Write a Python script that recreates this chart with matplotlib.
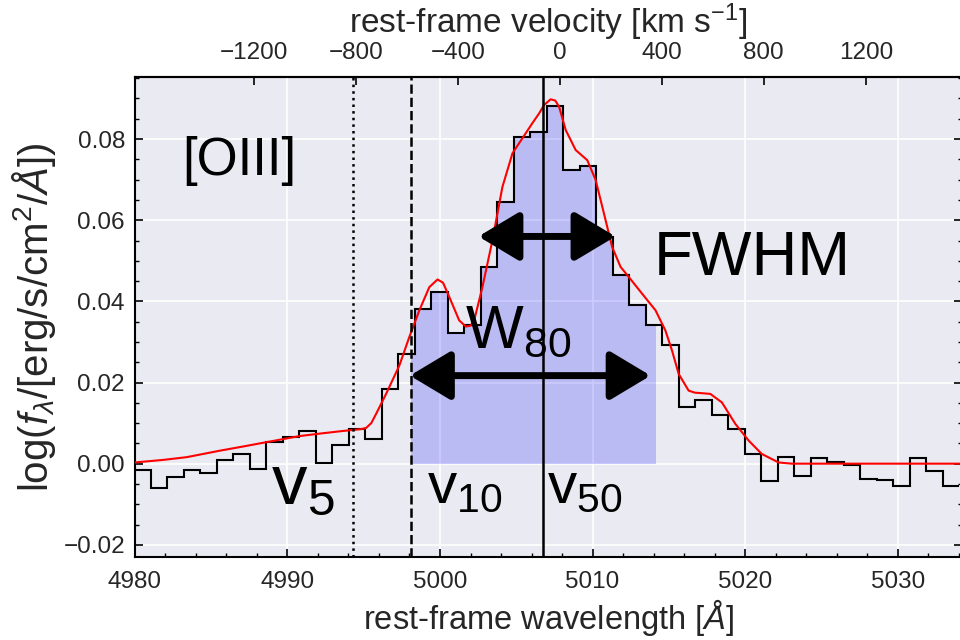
import numpy as np
import matplotlib
matplotlib.use('Agg')
import matplotlib.pyplot as plt
from matplotlib.patches import Rectangle
from matplotlib.ticker import MultipleLocator

plt.rcParams['font.family'] = ['Liberation Sans', 'DejaVu Sans']
plt.rcParams['mathtext.fontset'] = 'custom'
plt.rcParams['mathtext.rm'] = 'Liberation Sans'
plt.rcParams['mathtext.it'] = 'Liberation Sans:italic'
plt.rcParams['mathtext.bf'] = 'Liberation Sans:bold'

# spectrum bins (rest-frame wavelength, A)
bin_start = 4979.98
bin_width = 1.081
flux = [-0.0015, -0.0060, -0.0032, -0.0016, -0.0022, 0.0009, 0.0024, -0.0012,
        0.0053, 0.0065, 0.0081, 0.0002, 0.0045, 0.0086, 0.0062, 0.0185,
        0.0271, 0.0380, 0.0423, 0.0323, 0.0342, 0.0485, 0.0645, 0.0806,
        0.0818, 0.0881, 0.0725, 0.0733, 0.0559, 0.0464, 0.0390, 0.0341,
        0.0293, 0.0139, 0.0158, 0.0121, 0.0086, 0.0025, -0.0042, 0.0017,
        -0.0030, 0.0014, 0.0005, -0.0004, -0.0039, -0.0041, -0.0054, 0.0014,
        -0.0017, -0.0056]
edges = bin_start + bin_width * np.arange(len(flux) + 1)

# model fit (red)
fit_wave = [4980.0, 4981.8, 4983.40, 4985.58, 4987.2, 4988.63, 4990.80, 4992.33,
            4993.5, 4994.27, 4994.8, 4995.16, 4995.5, 4995.82, 4996.47, 4997.34,
            4997.99, 4998.65, 4999.30, 4999.84, 5000.2, 5000.61, 5001.26, 5001.70,
            5002.0, 5002.24, 5002.78, 5003.44, 5004.09, 5004.75, 5005.40, 5006.05,
            5006.49, 5006.82, 5007.25, 5007.55, 5007.80, 5008.24, 5008.89, 5009.65,
            5010.20, 5010.74, 5011.28, 5011.83, 5012.37, 5013.24, 5014.12, 5014.77,
            5015.20, 5015.64, 5016.29, 5016.7, 5017.06, 5017.71, 5018.47, 5019.35,
            5020.22, 5021.08, 5022.18, 5023.05, 5028.0, 5035.0]
fit_flux = [0.0003, 0.0009, 0.0016, 0.0032, 0.0043, 0.0053, 0.0068, 0.0075,
            0.0080, 0.0083, 0.0085, 0.0088, 0.0100, 0.0123, 0.0172, 0.0242,
            0.0312, 0.0378, 0.0435, 0.0454, 0.0446, 0.0411, 0.0353, 0.0338,
            0.0340, 0.0353, 0.0435, 0.0551, 0.0682, 0.0765, 0.0802, 0.0839,
            0.0863, 0.0884, 0.0898, 0.0895, 0.0880, 0.0822, 0.0773, 0.0748,
            0.0699, 0.0617, 0.0534, 0.0485, 0.0460, 0.0419, 0.0378, 0.0328,
            0.0279, 0.0221, 0.0180, 0.0175, 0.0174, 0.0172, 0.0151, 0.0098,
            0.0057, 0.0024, 0.0003, 0.0000, 0.0000, 0.0000]

# velocity markers
v05, v10, v50, v90 = 4994.3, 4998.07, 5006.74, 5014.15
fwhm_lo, fwhm_hi, fwhm_y = 5002.52, 5011.5, 0.056
w80_lo, w80_hi, w80_y = 4998.03, 5013.8, 0.0217

lam0 = 5007.85
c_kms = 299792.458
vel_ticks = [-1200, -800, -400, 0, 400, 800, 1200]


def lam2vel(l):
    return (l - lam0) / lam0 * c_kms


def vel2lam(v):
    return lam0 * (1 + v / c_kms)


fig = plt.figure(figsize=(9.6, 6.4), dpi=100)
ax = fig.add_axes([0.1403, 0.1297, 0.8618, 0.75])
ax.set_facecolor('#EAEAF2')
ax.grid(True, color='white', lw=1.2)
ax.set_axisbelow(True)

fill = ax.stairs(flux, edges, fill=True, baseline=0, color='blue', alpha=0.2,
                 lw=0, zorder=1)
clip = Rectangle((v10, -1), v90 - v10, 2, transform=ax.transData)
fill.set_clip_path(clip)

ax.stairs(flux, edges, baseline=None, color='black', lw=1.5, zorder=2)
ax.plot(fit_wave, fit_flux, color='red', lw=1.5, zorder=3)

ax.axvline(v05, color='black', ls=':', lw=1.8, zorder=4)
ax.axvline(v10, color='black', ls='--', lw=1.8, zorder=4)
ax.axvline(v50, color='black', ls='-', lw=1.8, zorder=4)

arrow = dict(arrowstyle='<|-|>,head_length=1.25,head_width=0.75', lw=5,
             color='black', shrinkA=0, shrinkB=0, mutation_scale=20)
ax.annotate('', xy=(fwhm_hi, fwhm_y), xytext=(fwhm_lo, fwhm_y), arrowprops=arrow,
            zorder=5)
ax.annotate('', xy=(w80_hi, w80_y), xytext=(w80_lo, w80_y), arrowprops=arrow,
            zorder=5)

ax.text(4983.1, 0.0711, '[OIII]', fontsize=38, va='baseline')
ax.text(5014.02, 0.0464, 'FWHM', fontsize=45.5, va='baseline')
ax.text(5001.67, 0.0287, 'W$_{80}$', fontsize=44, va='baseline')
ax.text(4988.9, -0.0098, 'v$_5$', fontsize=51, va='baseline')
ax.text(4999.17, -0.0096, 'v$_{10}$', fontsize=42, va='baseline')
ax.text(5007.0, -0.0096, 'v$_{50}$', fontsize=42, va='baseline')

ax.set_xlim(4980, 5034.2)
ax.set_ylim(-0.0230, 0.0953)
ax.xaxis.set_major_locator(MultipleLocator(10))
ax.xaxis.set_minor_locator(MultipleLocator(2))
ax.yaxis.set_major_locator(MultipleLocator(0.02))
ax.yaxis.set_minor_locator(MultipleLocator(0.005))
ax.tick_params(which='both', direction='in', colors='black', labelcolor='#262626',
               labelsize=17.5, top=False, right=True)
ax.tick_params(axis='x', which='both', pad=10)
ax.tick_params(axis='y', which='both', pad=7)
ax.tick_params(which='major', length=6, width=1.2)
ax.tick_params(which='minor', length=3, width=1)
for s in ax.spines.values():
    s.set_color('black')
    s.set_linewidth(1.5)

ax.set_xlabel(r'rest-frame wavelength [$\mathit{Å}$]', fontsize=23.5,
              color='#262626', labelpad=3)
ax.set_ylabel(r'log($f_\lambda$/[erg/s/cm$^2$/$\mathit{Å}$])', fontsize=29,
              color='#262626', labelpad=4)

sec = ax.secondary_xaxis('top', functions=(lam2vel, vel2lam))
sec.set_xticks(vel_ticks)
sec.set_xticklabels([str(v).replace('-', '\u2212') for v in vel_ticks])
sec.tick_params(direction='in', length=6, width=1.2, colors='black',
                labelcolor='#262626', labelsize=17.5, pad=9.5)
sec.spines['top'].set_color('black')
sec.spines['top'].set_linewidth(1.5)
sec.set_xlabel(r'rest-frame velocity [km s$^{-1}$]', fontsize=24,
               color='#262626', labelpad=6)

fig.savefig('out.png', dpi=100)
